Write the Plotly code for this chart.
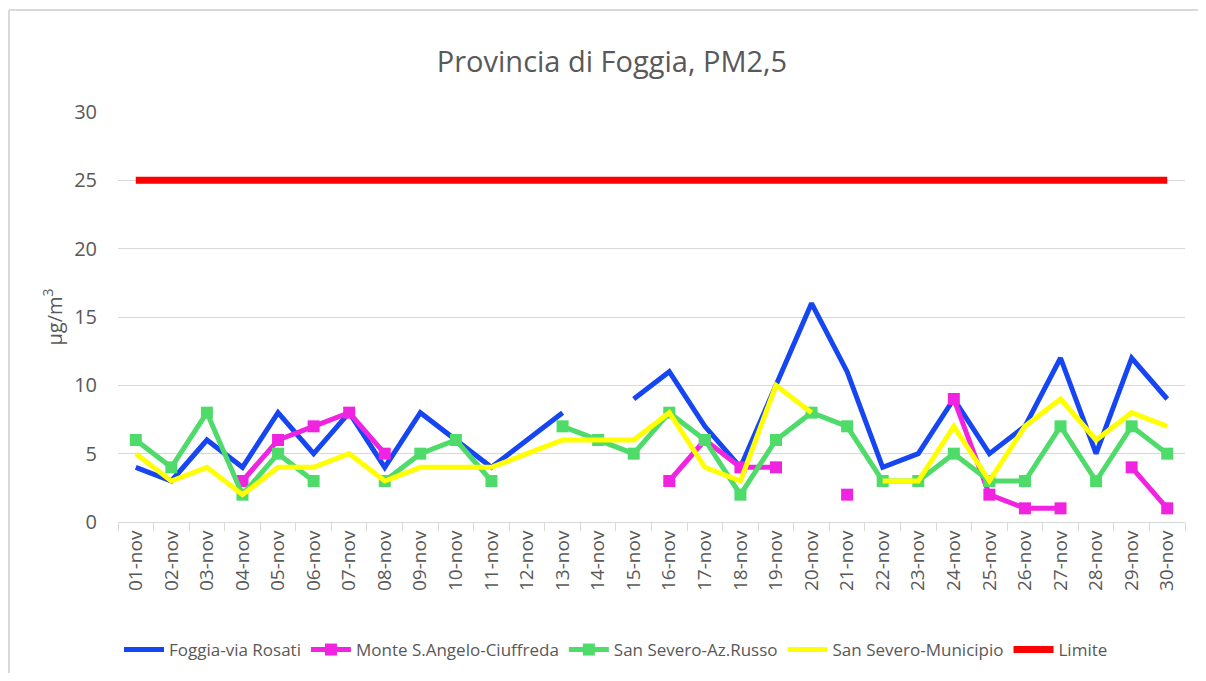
import plotly.graph_objects as go

days = [f"{d:02d}-nov" for d in range(1, 31)]

foggia = [4, 3, 6, 4, 8, 5, 8, 4, 8, 6, 4, 6, 8, None, 9, 11, 7, 4, 10, 16,
          11, 4, 5, 9, 5, 7, 12, 5, 12, 9]
monte = [None, None, None, 3, 6, 7, 8, 5, None, None, None, None, None, None, None, 3,
         6, 4, 4, None, 2, None, None, 9, 2, 1, 1, None, 4, 1]
russo = [6, 4, 8, 2, 5, 3, None, 3, 5, 6, 3, None, 7, 6, 5, 8, 6, 2, 6, 8,
         7, 3, 3, 5, 3, 3, 7, 3, 7, 5]
municipio = [5, 3, 4, 2, 4, 4, 5, 3, 4, 4, 4, 5, 6, 6, 6, 8, 4, 3, 10, 8,
             None, 3, 3, 7, 3, 7, 9, 6, 8, 7]
limite = [25] * 30

names = ["Foggia-via Rosati", "Monte S.Angelo-Ciuffreda", "San Severo-Az.Russo",
         "San Severo-Municipio", "Limite"]
colors = ["#1546F2", "#F024E0", "#4FDB6A", "#FFFF00", "#FF0000"]
series = [foggia, monte, russo, municipio, limite]
with_markers = [False, True, True, False, False]
widths = [5, 5, 5, 5, 7]

FONT = "Open Sans, sans-serif"
GREY = "#595959"

fig = go.Figure()
for name, col, ys, mk, w in zip(names, colors, series, with_markers, widths):
    fig.add_trace(go.Scatter(
        x=days, y=ys, name=name,
        mode="lines+markers" if mk else "lines",
        line=dict(color=col, width=w),
        marker=dict(symbol="square", size=12, color=col) if mk else None,
        connectgaps=False,
    ))

# page body has an 8px margin: figure coordinates = screen coordinates - 8
OFF = 8
W, H = 1206 - 2 * OFF, 681 - 2 * OFF
L, T = 118 - OFF, 112 - OFF
R = W - (1185 - OFF)
B = H - (522 - OFF)
pw, ph = W - L - R, H - T - B

fig.update_layout(
    width=W, height=H,
    margin=dict(l=L, r=R, t=T, b=B, autoexpand=False),
    paper_bgcolor="white", plot_bgcolor="white",
    font=dict(family=FONT, color=GREY),
    title=dict(text="Provincia di Foggia, PM2,5", x=(612 - OFF) / W, xanchor="center",
               y=1 - (62 - OFF) / H, yanchor="middle", yref="container",
               font=dict(size=29, color=GREY, family=FONT)),
    showlegend=True,
    legend=dict(orientation="h", x=(616 - 118) / pw, xanchor="center",
                y=(522 - 650) / ph, yanchor="middle",
                font=dict(size=17, color=GREY, family=FONT),
                itemwidth=40, traceorder="normal"),
    xaxis=dict(
        type="category", range=[-0.5, 29.5], autorange=False,
        showgrid=False, showline=True, linecolor="#D9D9D9", linewidth=1,
        ticks="outside", tickson="boundaries", ticklen=8, tickcolor="#D9D9D9",
        tickangle=-90, tickfont=dict(size=19, color=GREY, family=FONT),
        zeroline=False, automargin=False,
    ),
    yaxis=dict(
        range=[0, 30], dtick=5, tick0=0, showgrid=True, gridcolor="#D9D9D9", gridwidth=1,
        zeroline=False, showline=False, ticks="", ticklabelstandoff=20,
        tickfont=dict(size=20, color=GREY, family=FONT), automargin=False,
        title=dict(text="μg/m<sup>3</sup>", standoff=6,
                   font=dict(size=20, color=GREY, family=FONT)),
    ),
)

# chart border (only top and left edges visible in the frame)
bx = (9 - 118) / pw
by = (522 - 10) / ph
fig.add_shape(type="line", xref="paper", yref="paper", x0=bx, x1=1.1, y0=by, y1=by,
              line=dict(color="#D9D9D9", width=2))
fig.add_shape(type="line", xref="paper", yref="paper", x0=bx, x1=bx, y0=by, y1=-0.6,
              line=dict(color="#D9D9D9", width=2))

fig.write_html("out.html")
